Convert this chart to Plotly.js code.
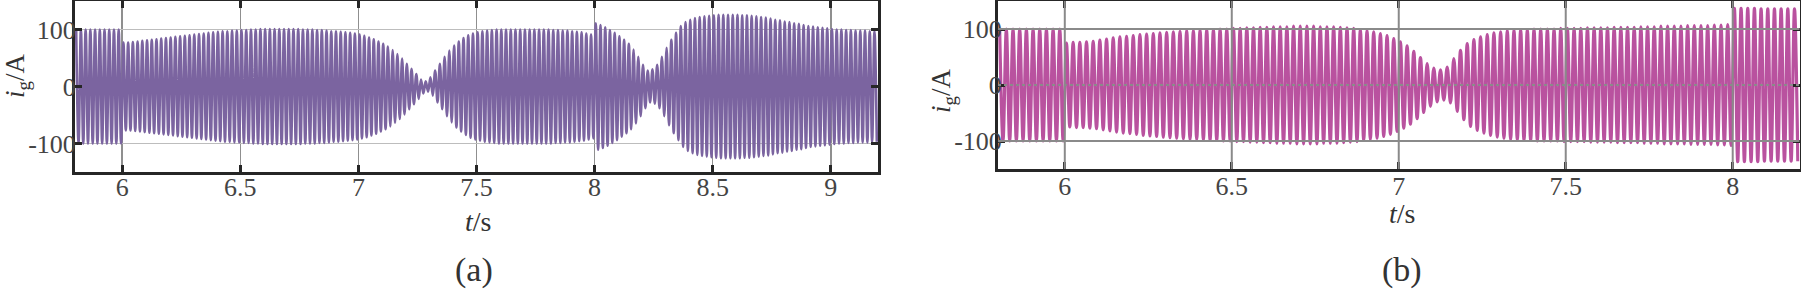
<!DOCTYPE html>
<html>
<head>
<meta charset="utf-8">
<script src="https://cdn.plot.ly/plotly-3.0.1.min.js"></script>
<style>
html,body{margin:0;padding:0;background:#ffffff;}
#chart{width:1801px;height:293px;}
</style>
</head>
<body>
<div id="chart"></div>
<script>
// ---- data ----
// Grid current i_g (A): one peak amplitude per 50 Hz cycle, first cycle starting at T_START
const T_START = 5.8;      // s
const CYCLE = 0.02;       // s (50 Hz)

// panel (a): 5.80 s ... 9.18 s  (170 cycles)
const ampA = [
  100,100,100,100,100,100,100,100,100,100,
  77,77,78,79,80,81,82,83,84,85,
  86,87,88,89,90,91,92,93,94,95,
  96,97,97,98,98,99,99,100,100,101,
  101,101,101,101,101,101,101,101,100,100,
  100,99,99,98,97,97,96,95,94,93,
  91,89,86,83,79,75,70,64,57,49,
  40,31,22,12,9,16,28,40,52,63,
  72,79,85,90,93,95,97,98,99,100,
  100,100,100,100,100,100,100,100,100,100,
  100,99,99,98,98,97,96,95,93,91,
  111,108,104,99,94,88,82,75,65,52,
  38,28,30,38,52,68,82,94,106,113,
  117,120,122,123,124,125,126,126,126,126,
  126,125,125,124,123,122,121,119,117,116,
  114,113,111,110,108,106,105,104,103,102,
  101,100,100,99,99,98,98,98,97,97
];

// panel (b): 5.80 s ... 8.18 s  (120 cycles)
const ampB = [
  100,100,100,100,100,100,100,100,100,100,
  75,76,76,77,78,80,82,84,86,87,
  88,90,91,92,93,94,95,96,97,97,
  98,99,99,100,100,101,101,102,102,103,
  103,104,104,104,105,105,105,105,104,104,
  104,103,102,101,99,97,95,92,88,83,
  77,70,60,49,38,30,27,32,47,62,
  74,81,86,90,93,95,97,98,99,99,
  100,100,100,100,101,101,101,101,102,102,
  102,102,103,103,103,103,104,104,104,105,
  105,105,105,106,106,106,106,107,107,108,
  137,137,137,137,136,136,136,136,136,136
];

const xTicksA = [6, 6.5, 7, 7.5, 8, 8.5, 9];
const xTicksB = [6, 6.5, 7, 7.5, 8];
const yTicks = [-100, 0, 100];
const yTickText = ['-100', '0', '100'];

// ---- build the waveform: positive peak then negative peak in every cycle ----
function wave(amp) {
  const x = [], y = [];
  amp.forEach((a, k) => {
    const t0 = T_START + k * CYCLE;
    x.push(t0 + CYCLE / 4, t0 + 3 * CYCLE / 4);
    y.push(a, -a);
  });
  return {x, y};
}
const wA = wave(ampA);
const wB = wave(ampB);

const FONT = 'Liberation Serif';
const FRAME = '#262626';
const TICKCOL = '#444444';

const data = [
  {type:'scatter', mode:'lines', x:wA.x, y:wA.y, xaxis:'x', yaxis:'y',
   line:{color:'#7b64a0', width:2.6, shape:'spline', smoothing:1}, hoverinfo:'skip'},
  {type:'scatter', mode:'lines', x:wB.x, y:wB.y, xaxis:'x2', yaxis:'y2',
   line:{color:'#b9529f', width:3.2, shape:'spline', smoothing:1}, hoverinfo:'skip'}
];

function axisCommon() {
  return {
    showline:true, linecolor:FRAME, linewidth:3, mirror:'ticks',
    ticks:'inside', ticklen:7, tickwidth:3, tickcolor:FRAME,
    tickfont:{family:FONT, size:26, color:TICKCOL},
    zeroline:false, layer:'above traces', fixedrange:true
  };
}

const layout = {
  width:1801, height:293,
  margin:{l:0, r:0, t:0, b:0},
  paper_bgcolor:'#ffffff', plot_bgcolor:'#ffffff',
  showlegend:false,
  font:{family:FONT, size:26, color:TICKCOL},
  xaxis:Object.assign(axisCommon(), {
    domain:[75/1801, 878/1801], range:[5.8, 9.2], anchor:'y',
    tickvals:xTicksA, ticktext:xTicksA.map(String), ticklabelstandoff:-10,
    showgrid:true, gridcolor:'#8f8f8f', gridwidth:1.5
  }),
  yaxis:Object.assign(axisCommon(), {
    domain:[121/293, 292/293], range:[-150, 150], anchor:'x',
    tickvals:yTicks, ticktext:yTickText, ticklabelstandoff:-9,
    showgrid:true, gridcolor:'#bdbdbd', gridwidth:1.5
  }),
  xaxis2:Object.assign(axisCommon(), {
    domain:[998/1801, 1799.5/1801], range:[5.8, 8.2], anchor:'y2',
    tickvals:xTicksB, ticktext:xTicksB.map(String), ticklabelstandoff:-8,
    showgrid:false
  }),
  yaxis2:Object.assign(axisCommon(), {
    domain:[124/293, 292/293], range:[-150, 150], anchor:'x2',
    tickvals:yTicks, ticktext:yTickText, ticklabelstandoff:-12,
    showgrid:false
  }),
  shapes:[],
  annotations:[]
};

// panel (b) grid lines sit on top of the waveform
xTicksB.forEach(v => layout.shapes.push({type:'line', layer:'above', xref:'x2', yref:'y2 domain',
  x0:v, x1:v, y0:0, y1:1, line:{color:'#8a8a8a', width:2}}));
yTicks.forEach(v => layout.shapes.push({type:'line', layer:'above', xref:'x2 domain', yref:'y2',
  x0:0, x1:1, y0:v, y1:v, line:{color:'#8a8a8a', width:2, dash: v === 0 ? 'dot' : 'solid'}}));

function ann(text, x, y, size, angle) {
  return {text:text, xref:'paper', yref:'paper', x:x/1801, y:1 - y/293,
    xanchor:'center', yanchor:'middle', showarrow:false, textangle:angle || 0,
    font:{family:FONT, size:size, color:'#333333'}};
}
layout.annotations.push(
  ann('<i>i</i><sub>g</sub>/A', 17, 76, 27, -90),
  ann('<i>i</i><sub>g</sub>/A', 943, 91, 27, -90),
  ann('<i>t</i>/s', 478, 222, 28),
  ann('<i>t</i>/s', 1402, 213, 28),
  ann('(a)', 474, 270, 34),
  ann('(b)', 1402, 270, 34)
);

Plotly.newPlot('chart', data, layout, {staticPlot:true, displayModeBar:false});
</script>
</body>
</html>
